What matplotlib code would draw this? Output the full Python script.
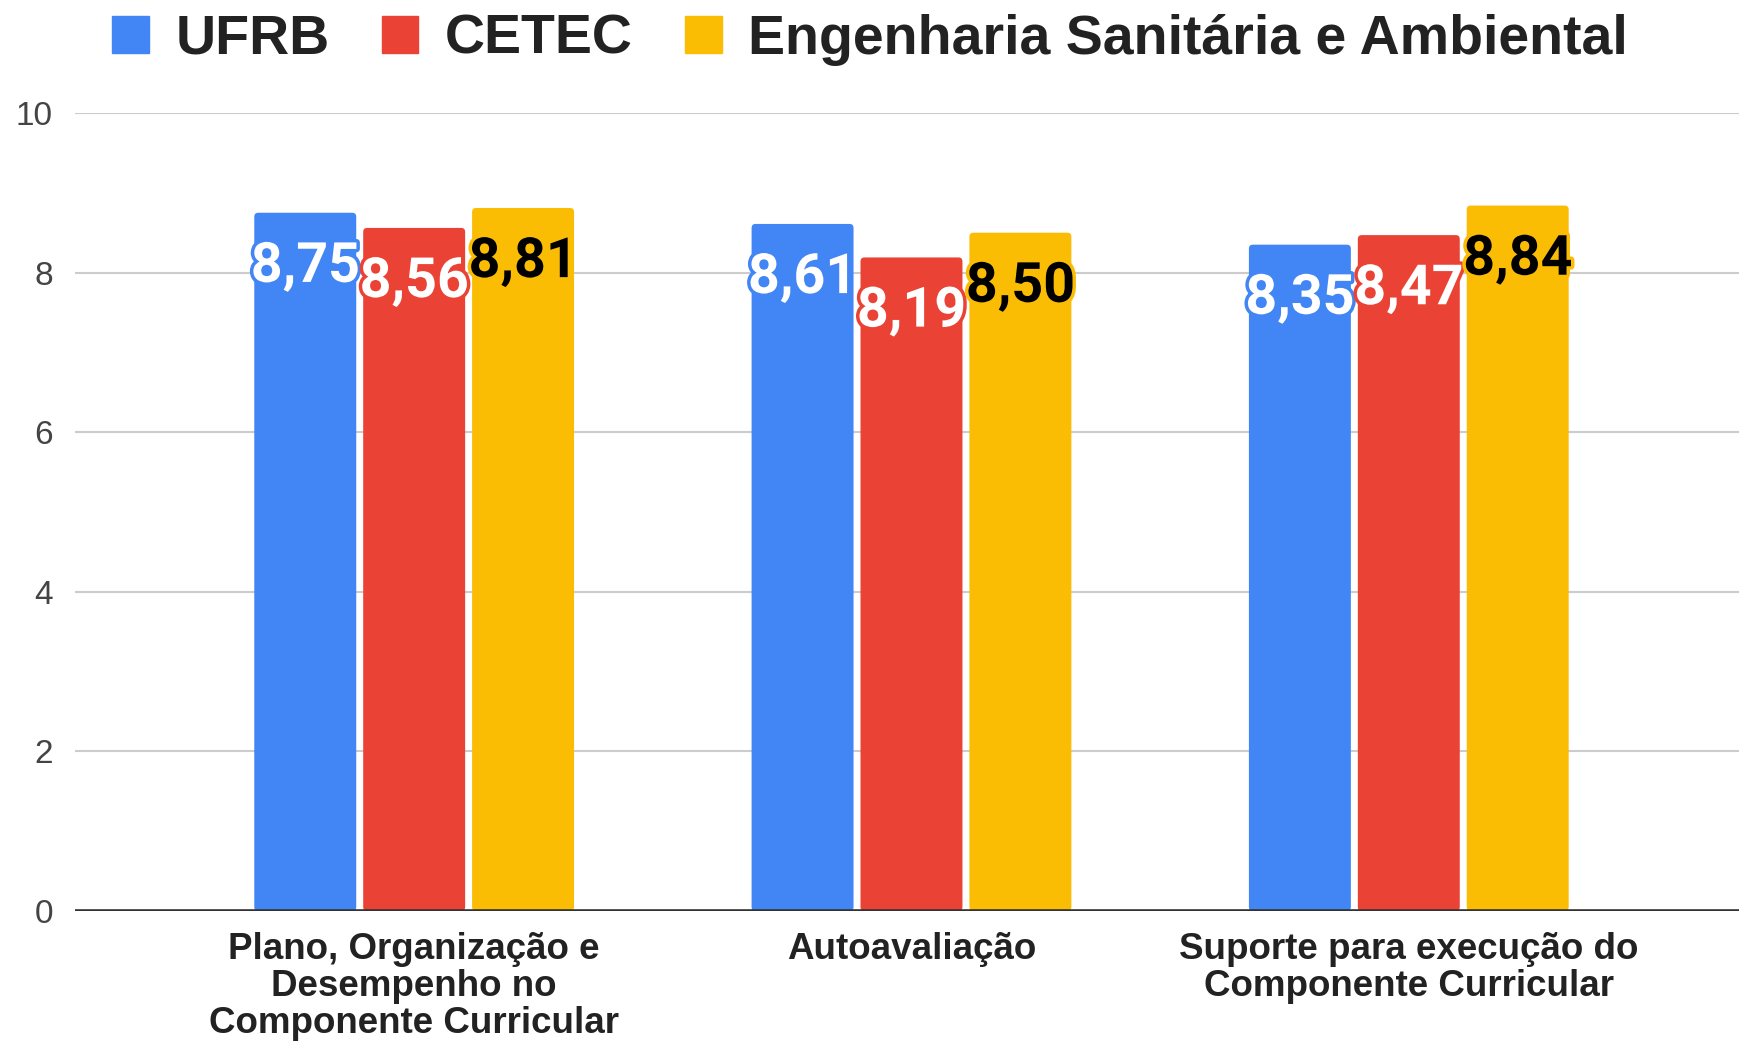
import matplotlib
matplotlib.use("Agg")
import matplotlib.pyplot as plt
import matplotlib.patheffects as pe
from matplotlib.patches import Patch, FancyBboxPatch
import numpy as np

categories = ["Plano, Organização e\nDesempenho no\nComponente Curricular",
              "Autoavaliação",
              "Suporte para execução do\nComponente Curricular"]
series_names = ["UFRB", "CETEC", "Engenharia Sanitária e Ambiental"]
ufrb = [8.75, 8.61, 8.35]
cetec = [8.56, 8.19, 8.47]
esa = [8.81, 8.50, 8.84]
yticks = [0, 2, 4, 6, 8, 10]

colors = ["#4285F4", "#EA4335", "#FBBC04"]
text_colors = ["white", "white", "black"]

plt.rcParams['font.family'] = ['Liberation Sans', 'DejaVu Sans']

fig = plt.figure(figsize=(17.4, 10.42), dpi=100)
ax = fig.add_axes([75/1740, 1-911/1042, 1-75/1740, (911-113)/1042])

x = np.arange(len(categories))
width = 0.205
pitch = 0.219
all_series = [ufrb, cetec, esa]
for i, (vals, c, tc) in enumerate(zip(all_series, colors, text_colors)):
    xs = x + (i - 1) * pitch
    bars = ax.bar(xs, vals, width=width, color=c, zorder=3)
    for b, v in zip(bars, vals):
        b.set_visible(False)
        rp = FancyBboxPatch((b.get_x(), b.get_y()), b.get_width(), b.get_height(),
                            boxstyle="round,pad=0,rounding_size=0.008",
                            mutation_aspect=6.25, facecolor=c, edgecolor='none',
                            zorder=3)
        ax.add_patch(rp)
        ax.annotate(f"{v:.2f}".replace('.', ','),
                    xy=(b.get_x() + b.get_width()/2, v),
                    xytext=(0, -39), textcoords='offset points',
                    ha='center', va='center', fontsize=40, fontweight='bold',
                    family=['Roboto', 'DejaVu Sans'],
                    color=tc, zorder=5,
                    path_effects=[pe.Stroke(linewidth=5, foreground=c), pe.Normal()])

ax.set_xlim(-0.682, 2.666)
ax.set_ylim(0, 10)
ax.set_yticks(yticks)
ax.set_yticklabels([str(t) for t in yticks], fontsize=24, color='#444444')
ax.set_xticks(x)
ax.set_xticklabels(categories, fontsize=26.5, fontweight='bold', color='#222222',
                   linespacing=1.08)
ax.tick_params(axis='both', length=0)
ax.tick_params(axis='y', pad=16)
ax.tick_params(axis='x', pad=15)
for s in ax.spines.values():
    s.set_visible(False)
ax.grid(axis='y', color='#cccccc', linewidth=1.5, zorder=0)
ax.axhline(0, color='#333333', linewidth=2.6, zorder=4)
ax.set_axisbelow(True)

handles = [Patch(facecolor=c, edgecolor=c) for c in colors]
leg = fig.legend(handles, series_names, loc='center', bbox_to_anchor=(0.5, 1-40/1042),
                 ncol=3, frameon=False, handlelength=0.66, handleheight=0.66,
                 handletextpad=0.48, columnspacing=0.94,
                 prop={'size': 40, 'weight': 'bold'})
for t in leg.get_texts():
    t.set_color('#222222')

fig.savefig("out.png", dpi=100, facecolor='white')
